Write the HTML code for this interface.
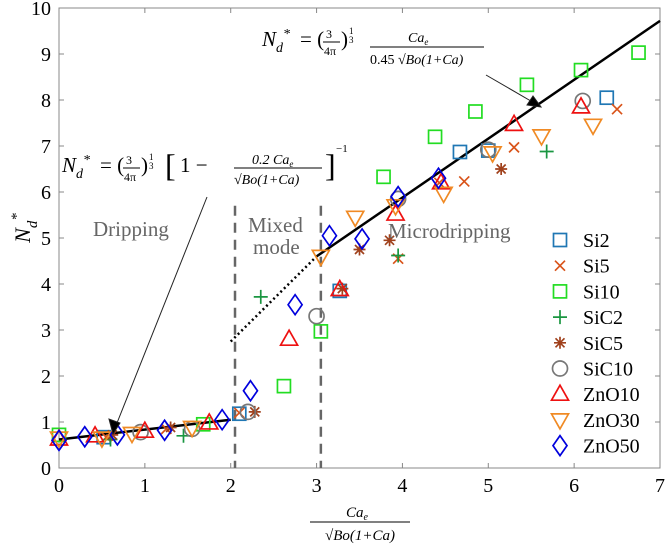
<!DOCTYPE html>
<html><head><meta charset="utf-8"><style>
body{margin:0;background:#fff;width:666px;height:547px;overflow:hidden}
svg text{font-family:"Liberation Serif",serif}
</style></head><body>
<svg id="chart" width="666" height="547" viewBox="0 0 666 547" xmlns="http://www.w3.org/2000/svg">
<g id="axes"></g>
<g id="fits"></g>
<g id="marks"></g>
<g id="legend"></g>
<g fill="#666" font-size="21">
<text x="93" y="236">Dripping</text>
<text x="248" y="232">Mixed</text>
<text x="253" y="254">mode</text>
<text x="388" y="238">Microdripping</text>
</g>
<g font-size="21" fill="#000">
<text x="62" y="172" font-style="italic">N<tspan font-size="14" dy="6">d</tspan><tspan font-size="14" dy="-14">*</tspan></text>
<text x="100" y="172">= (</text><text x="126" y="164" font-size="12">3</text><line x1="123" y1="168" x2="140" y2="168" stroke="#000"/><text x="124" y="181" font-size="12">4π</text>
<text x="141" y="172">)</text><text x="149" y="160" font-size="9">1</text><text x="149" y="169" font-size="9">3</text>
<text x="165" y="176" font-size="32">[</text><text x="180" y="172">1 −</text>
<text x="252" y="164" font-size="14" font-style="italic">0.2 Ca<tspan font-size="9" dy="3">e</tspan></text>
<line x1="234" y1="168" x2="322" y2="168" stroke="#000"/>
<text x="234" y="184" font-size="14" font-style="italic">√Bo(1+Ca)</text>
<text x="325" y="176" font-size="32">]</text><text x="336" y="152" font-size="11">−1</text>
</g>
<g font-size="21" fill="#000">
<text x="262" y="46" font-style="italic">N<tspan font-size="14" dy="6">d</tspan><tspan font-size="14" dy="-14">*</tspan></text>
<text x="300" y="46">= (</text><text x="326" y="38" font-size="12">3</text><line x1="323" y1="42" x2="340" y2="42" stroke="#000"/><text x="324" y="55" font-size="12">4π</text>
<text x="341" y="46">)</text><text x="349" y="34" font-size="9">1</text><text x="349" y="43" font-size="9">3</text>
<text x="408" y="42" font-size="14" font-style="italic">Ca<tspan font-size="9" dy="3">e</tspan></text>
<line x1="370" y1="47" x2="484" y2="47" stroke="#000"/>
<text x="370" y="64" font-size="14">0.45 <tspan font-style="italic">√Bo(1+Ca)</tspan></text>
</g>
<g stroke="#222" fill="#000">
<line x1="207" y1="197" x2="115" y2="428" stroke-width="1"/>
<polygon points="113,434 109,419 120,423"/>
<line x1="486" y1="75" x2="536" y2="104" stroke-width="1"/>
<polygon points="541,107 527,105 533,96"/>
</g>
<g transform="translate(30,228) rotate(-90)"><text font-size="22" font-style="italic" text-anchor="middle">N<tspan font-size="15" dy="7">d</tspan><tspan font-size="15" dy="-16">*</tspan></text></g>
<g font-style="italic" font-size="15">
<text x="357" y="517" text-anchor="middle">Ca<tspan font-size="10" dy="3">e</tspan></text>
<line x1="310" y1="522" x2="410" y2="522" stroke="#000"/>
<text x="360" y="540" text-anchor="middle">√Bo(1+Ca)</text>
</g>
</svg>
<script>
const xTicks=[0,1,2,3,4,5,6,7];
const yTicks=[0,1,2,3,4,5,6,7,8,9,10];
const seriesNames=["Si2","Si5","Si10","SiC2","SiC5","SiC10","ZnO10","ZnO30","ZnO50"];
const seriesColors=["#1f77b4","#d95319","#22dd22","#1a9641","#a0411c","#777777","#ee1111","#f08a24","#0000dd"];
const seriesShapes=["square","x","square","plus","star","circle","tri","dtri","diamond"];
const si2X=[0.52,2.1,3.27,4.67,5.0,6.38];const si2Y=[0.67,1.18,3.85,6.87,6.9,8.05];
const si5X=[0.55,1.25,2.1,3.95,4.43,4.72,5.3,6.5];const si5Y=[0.67,0.85,1.2,4.55,6.2,6.23,6.97,7.8];
const si10X=[0,1.68,2.62,3.05,3.78,4.38,4.85,5.45,6.08,6.75];const si10Y=[0.72,0.95,1.78,2.97,6.33,7.2,7.75,8.33,8.65,9.03];
const sic2X=[0.6,1.45,2.35,3.95,5.68];const sic2Y=[0.62,0.7,3.72,4.62,6.88];
const sic5X=[0.62,1.3,2.28,3.3,3.5,3.85,5.15];const sic5Y=[0.72,0.88,1.22,3.9,4.75,4.95,6.5];
const sic10X=[0.95,1.55,2.2,3.0,3.95,5.0,6.1];const sic10Y=[0.78,0.85,1.22,3.3,5.85,6.92,7.98];
const zno10X=[0,0.42,1.0,1.75,2.68,3.27,3.92,4.45,5.3,6.08];const zno10Y=[0.63,0.7,0.8,0.98,2.8,3.88,5.52,6.2,7.47,7.85];
const zno30X=[0,0.5,0.85,1.55,3.05,3.45,3.92,4.48,5.05,5.62,6.22];const zno30Y=[0.65,0.65,0.75,0.88,4.6,5.45,5.7,5.97,6.85,7.22,7.45];
const zno50X=[0,0.3,0.68,1.23,1.9,2.23,2.75,3.15,3.53,3.95,4.42];const zno50Y=[0.6,0.68,0.72,0.82,1.05,1.68,3.55,5.05,4.98,5.9,6.3];
const allX=[si2X,si5X,si10X,sic2X,sic5X,sic10X,zno10X,zno30X,zno50X];
const allY=[si2Y,si5Y,si10Y,sic2Y,sic5Y,sic10Y,zno10Y,zno30Y,zno50Y];
const fitDripX=[0,2];const fitDripY=[0.62,1.05];
const fitMicroX=[3,7];const fitMicroY=[4.6,9.72];
const fitDotX=[2,3];const fitDotY=[2.75,4.6];
const regionX=[2.05,3.05];const regionTop=5.7;

const NS="http://www.w3.org/2000/svg";
const X0=59,X1=660,Y0=468,Y1=8;
const sx=v=>X0+v*(X1-X0)/7, sy=v=>Y0-v*(Y0-Y1)/10;
function mk(tag,attrs,parent){const e=document.createElementNS(NS,tag);for(const k in attrs)e.setAttribute(k,attrs[k]);parent.appendChild(e);return e;}
const axes=document.getElementById('axes');
let box=mk('rect',{x:X0,y:Y1,width:X1-X0,height:Y0-Y1,fill:'none',stroke:'#888','stroke-width':1},axes);


xTicks.forEach(t=>{
 let l=mk('line',{x1:sx(t),x2:sx(t),y1:Y0,y2:Y0-5,stroke:'#888'},axes);
 
 
 mk('line',{x1:sx(t),x2:sx(t),y1:Y1,y2:Y1+5,stroke:'#888'},axes);
 let tx=mk('text',{x:sx(t),y:Y0+24,'text-anchor':'middle','font-size':20},axes);tx.textContent=t;
 
 
});
yTicks.forEach(t=>{
 let l=mk('line',{x1:X0,x2:X0+5,y1:sy(t),y2:sy(t),stroke:'#888'},axes);
 
 
 mk('line',{x1:X1,x2:X1-5,y1:sy(t),y2:sy(t),stroke:'#888'},axes);
 let tx=mk('text',{x:X0-8,y:sy(t)+7,'text-anchor':'end','font-size':20},axes);tx.textContent=t;
 
 
});
const fits=document.getElementById('fits');
regionX.forEach(r=>{let l=mk('line',{x1:sx(r),x2:sx(r),y1:sy(regionTop),y2:Y0,stroke:'#666','stroke-width':2.5,'stroke-dasharray':'10,7'},fits);
 
 });
let f1=mk('line',{x1:sx(fitDripX[0]),y1:sy(fitDripY[0]),x2:sx(fitDripX[1]),y2:sy(fitDripY[1]),stroke:'#000','stroke-width':2.5},fits);


let f2=mk('line',{x1:sx(fitMicroX[0]),y1:sy(fitMicroY[0]),x2:sx(fitMicroX[1]),y2:sy(fitMicroY[1]),stroke:'#000','stroke-width':2.5},fits);


let f3=mk('line',{x1:sx(fitDotX[0]),y1:sy(fitDotY[0]),x2:sx(fitDotX[1]),y2:sy(fitDotY[1]),stroke:'#000','stroke-width':2.5,'stroke-dasharray':'2,3'},fits);



function marker(shape,x,y,c,p){
 const s={fill:'none',stroke:c,'stroke-width':1.7};let e;
 if(shape==='square')e=mk('rect',Object.assign({x:x-6.5,y:y-6.5,width:13,height:13},s),p);
 else if(shape==='circle')e=mk('circle',Object.assign({cx:x,cy:y,r:7.5},s),p);
 else if(shape==='tri')e=mk('polygon',Object.assign({points:`${x},${y-9} ${x-8.5},${y+6} ${x+8.5},${y+6}`},s),p);
 else if(shape==='dtri')e=mk('polygon',Object.assign({points:`${x},${y+9} ${x-8.5},${y-6} ${x+8.5},${y-6}`},s),p);
 else if(shape==='diamond')e=mk('polygon',Object.assign({points:`${x},${y-10} ${x+7},${y} ${x},${y+10} ${x-7},${y}`},s),p);
 else if(shape==='x')e=mk('path',Object.assign({d:`M${x-5} ${y-5}L${x+5} ${y+5}M${x-5} ${y+5}L${x+5} ${y-5}`},s),p);
 else if(shape==='plus')e=mk('path',Object.assign({d:`M${x-7} ${y}H${x+7}M${x} ${y-7}V${y+7}`},s),p);
 else e=mk('path',Object.assign({d:`M${x-6} ${y}H${x+6}M${x} ${y-6}V${y+6}M${x-4.5} ${y-4.5}L${x+4.5} ${y+4.5}M${x-4.5} ${y+4.5}L${x+4.5} ${y-4.5}`},s),p);
 return e;
}
const marks=document.getElementById('marks');
seriesNames.forEach((n,i)=>{
 const g=mk('g',{},marks);
 
 
 allX[i].forEach((xv,j)=>{const m=marker(seriesShapes[i],sx(xv),sy(allY[i][j]),seriesColors[i],g);
  
  });
});
const leg=document.getElementById('legend');
seriesNames.forEach((n,i)=>{
 const y=240+i*25.7;
 const g=mk('g',{},leg);
 
 
 marker(seriesShapes[i],560,y,seriesColors[i],g);
 const t=mk('text',{x:583,y:y+7,'font-size':20},g);t.textContent=n;
});
</script>
</body></html>
